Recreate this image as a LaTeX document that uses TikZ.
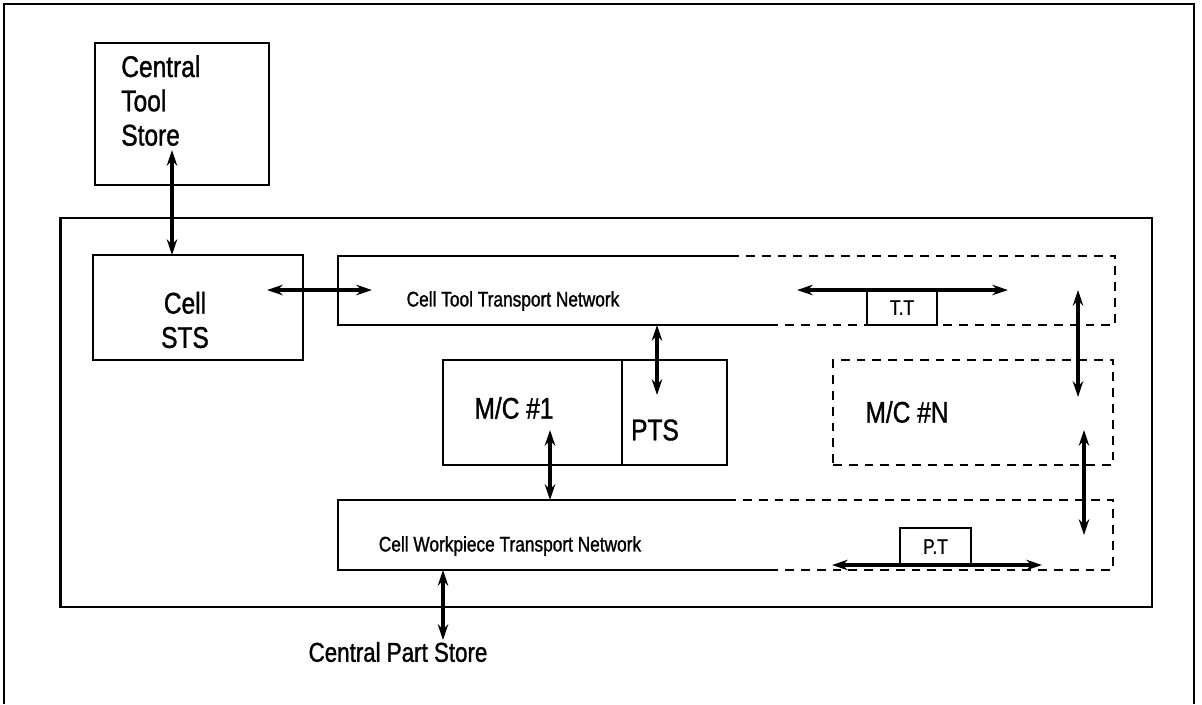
\documentclass[tikz,border=0pt]{standalone}
\usepackage{fontspec}
\setmainfont{Liberation Sans}[FakeStretch=0.82,FakeBold=1.2]
\usetikzlibrary{arrows.meta,positioning}

\tikzset{
	box/.style={draw, line width=1.5pt, inner sep=0pt, outer sep=0pt},
	dashbox/.style={box, dash pattern=on 5pt off 4pt},
	area/.style={inner sep=0pt, outer sep=0pt},
	link/.style={line width=1.9pt, <->, >={Stealth[length=9pt,width=6pt]}},
	bigtext/.style={font=\fontsize{17}{19.5}\selectfont, align=left, inner sep=0pt},
	smalltext/.style={font=\fontsize{12}{14}\selectfont, inner sep=0pt},
}

\begin{document}
\begin{tikzpicture}
			[
				x=0.02cm,
				y=-0.02cm
			]
			\useasboundingbox (0,0) rectangle (1202,704);
			% Page frame, open at the bottom
			\draw[line width=1.6pt] (4,704) -- (4,4) -- (1194,4) -- (1194,704);

			% Stores and cell
			\node[box, minimum width=3.48cm, minimum height=2.84cm] (cts) at (182,114) {};
			\node[bigtext, anchor=north west] (ctslabel) at (121,55) {Central\\Tool\\Store};
			\node[box, line width=1.6pt, minimum width=21.84cm, minimum height=7.78cm] (cell) at (606,412.5) {};
			\node[box, minimum width=4.2cm, minimum height=2.1cm] (sts) at (198,307.5) {};
			\node[bigtext, align=center] (stslabel) at (185,320) {Cell\\STS};

			% Transport networks, solid first and dashed further on
			\node[area, minimum width=15.54cm, minimum height=1.38cm] (cttn) at (726.5,290.5) {};
			\draw[box] (cttn.north west) ++(392,0) -| (cttn.south west) -- ++(432,0);
			\draw[dashbox] (cttn.north west) ++(392,0) -| (cttn.south east) -- ++(-345,0);
			\node[smalltext] (cttnlabel) at (513,301) {Cell Tool Transport Network};
			\node[area, minimum width=15.5cm, minimum height=1.4cm] (cwtn) at (725.5,535) {};
			\draw[box] (cwtn.north west) ++(389,0) -| (cwtn.south west) -- ++(435,0);
			\draw[dashbox] (cwtn.north west) ++(389,0) -| (cwtn.south east) -- ++(-340,0);
			\node[smalltext] (cwtnlabel) at (510,546) {Cell Workpiece Transport Network};

			% Machines
			\node[box, minimum width=3.58cm, minimum height=2.1cm] (mc1) at (532.5,412.5) {};
			\node[box, minimum width=2.1cm, minimum height=2.1cm, right=0pt of mc1] (pts) {};
			\node[dashbox, minimum width=5.6cm, minimum height=2.1cm] (mcn) at (973,412.5) {};
			\node[bigtext] (mc1label) at (514,408) {M/C \#1};
			\node[bigtext] (ptslabel) at (655,430) {PTS};
			\node[bigtext] (mcnlabel) at (907,412) {M/C \#N};

			% Carriers
			\node[box, smalltext, minimum width=1.4cm, minimum height=0.7cm] (tt) at (902,307.5) {T.T};
			\node[box, smalltext, minimum width=1.42cm, minimum height=0.74cm] (pt) at (935.5,546.5) {P.T};
			\node[font=\fontsize{15.5}{18}\selectfont, inner sep=0pt] (cps) at (398,652) {Central Part Store};

			% Free ends of the links
			\coordinate (ctsport) at (172,150);
			\coordinate (stsport) at (267,290);
			\coordinate (cttnport) at (372,290);
			\coordinate (ptsport) at (657,395);
			\coordinate (mc1port) at (550,430);
			\coordinate (ttlane) at (1078,290);
			\coordinate (mcnin) at (1078,397);
			\coordinate (mcnout) at (1084,430);
			\coordinate (ptlane) at (1084,535);
			\coordinate (cpsport) at (443,640);

			% Links
			\draw[link] (ctsport) -- (ctsport |- sts.north);
			\draw[link] (stsport) -- (cttnport);
			\draw[link] (ptsport |- cttn.south) -- (ptsport);
			\draw[link] (mc1port) -- (mc1port |- cwtn.north);
			\draw[link] (ttlane) -- (mcnin);
			\draw[link] (mcnout) -- (ptlane);
			\draw[link] ([xshift=-2.1cm]tt.north) -- ([xshift=2.12cm]tt.north);
			\draw[link] ([xshift=-2.07cm]pt.south) -- ([xshift=2.13cm]pt.south);
			\draw[link] (cpsport |- cwtn.south) -- (cpsport);
		\end{tikzpicture}
\end{document}
